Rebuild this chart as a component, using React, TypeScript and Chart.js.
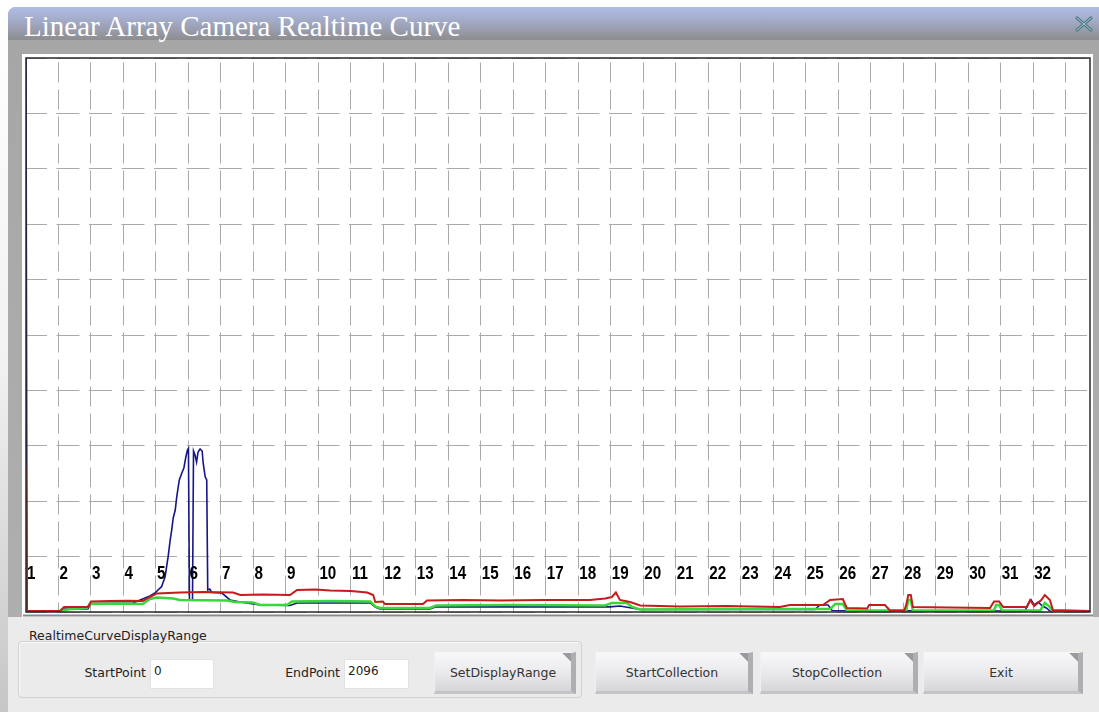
import React, { useEffect, useRef } from "react";
import { Chart, registerables } from "chart.js";

Chart.register(...registerables);

// ---- Data (sample index on x, 12-bit intensity on y) ----
const sectionLabels = [
  "1", "2", "3", "4", "5", "6", "7", "8", "9", "10", "11", "12", "13", "14", "15", "16",
  "17", "18", "19", "20", "21", "22", "23", "24", "25", "26", "27", "28", "29", "30", "31", "32",
];
const samplesPerSection = 64;
const xMax = 2096;
const yMax = 4096;
const yStep = 400;

const redX = [0, 2, 67, 75, 122, 128, 165, 200, 230, 244, 258, 303, 350, 408, 422, 465, 520, 534, 570, 599, 640, 672, 684, 688, 703, 707, 782, 790, 860, 934, 1020, 1111, 1141, 1154, 1162, 1170, 1190, 1210, 1288, 1380, 1485, 1505, 1570, 1584, 1609, 1617, 1657, 1661, 1692, 1702, 1730, 1734, 1738, 1743, 1747, 1820, 1899, 1907, 1917, 1925, 1972, 1978, 1986, 2000, 2007, 2017, 2023, 2096];
const redY = [1080, 8, 8, 37, 37, 78, 81, 84, 81, 111, 137, 144, 148, 144, 126, 129, 126, 163, 166, 159, 155, 144, 126, 74, 78, 59, 59, 85, 88, 85, 89, 89, 100, 111, 144, 89, 74, 48, 41, 44, 37, 52, 52, 89, 96, 30, 26, 52, 52, 11, 11, 52, 126, 126, 37, 33, 30, 78, 78, 37, 37, 89, 44, 89, 126, 89, 15, 7];

const greenX = [0, 67, 87, 120, 126, 180, 230, 244, 258, 290, 303, 396, 412, 447, 461, 514, 524, 600, 678, 688, 697, 796, 808, 950, 1141, 1154, 1184, 1194, 1210, 1400, 1584, 1594, 1609, 1617, 1734, 1738, 1743, 1747, 1907, 1911, 1917, 1923, 1998, 2007, 2015, 2023, 2096];
const greenY = [0, 7, 22, 30, 59, 63, 59, 96, 107, 100, 89, 85, 74, 70, 52, 52, 78, 81, 78, 41, 30, 30, 48, 52, 48, 67, 67, 37, 18, 22, 22, 59, 59, 11, 11, 89, 89, 11, 11, 52, 52, 11, 11, 67, 44, 7, 4];

const blueX = [0, 2, 67, 75, 122, 128, 211, 225, 244, 254, 260, 267, 274, 280, 284, 287, 290, 294, 297, 302, 307, 311, 315, 318, 320, 322, 328, 330, 333, 336, 339, 343, 347, 349, 353, 356, 358, 362, 366, 386, 402, 422, 461, 520, 534, 678, 688, 697, 796, 808, 1150, 1170, 1210, 1554, 1564, 1580, 1588, 1968, 1974, 1980, 1986, 1994, 2002, 2010, 2017, 2096];
const blueY = [4096, 4, 4, 22, 22, 63, 67, 89, 118, 140, 163, 187, 261, 409, 532, 606, 695, 754, 853, 976, 1028, 1065, 1148, 1198, 1210, 89, 89, 1190, 1161, 1109, 1183, 1205, 1190, 1102, 1000, 976, 163, 170, 144, 140, 89, 74, 52, 48, 67, 67, 37, 22, 22, 38, 38, 44, 18, 18, 52, 52, 11, 7, 59, 89, 52, 74, 44, 30, 7, 4];

const zip = (xs: number[], ys: number[]) => xs.map((x, i) => ({ x, y: ys[i] }));

const framePlugin = {
  id: "frame",
  afterDatasetsDraw(chart: any) {
    const { ctx, chartArea } = chart;
    const { left, top, right, bottom } = chartArea;
    const xs = chart.scales.x;
    ctx.save();
    // section numbers
    ctx.fillStyle = "#000";
    ctx.font = "bold 19px 'Liberation Sans', Arial, sans-serif";
    ctx.textBaseline = "alphabetic";
    ctx.textAlign = "left";
    sectionLabels.forEach((lab, i) => {
      const px = xs.getPixelForValue(i * samplesPerSection) + 1;
      ctx.save();
      ctx.translate(px, bottom - 33.5);
      ctx.scale(0.8, 1);
      ctx.fillText(lab, 0, 0);
      ctx.restore();
    });
    // frame
    ctx.strokeStyle = "#2a2a2a";
    ctx.lineWidth = 1.5;
    ctx.strokeRect(left, top, right - left, bottom - top);
    ctx.strokeStyle = "#8a8a8a";
    ctx.lineWidth = 2;
    ctx.beginPath();
    ctx.moveTo(left - 3, bottom + 3.5);
    ctx.lineTo(right + 3, bottom + 3.5);
    ctx.stroke();
    ctx.restore();
  },
};

function CurveChart() {
  const ref = useRef<HTMLCanvasElement | null>(null);
  useEffect(() => {
    if (!ref.current) return;
    const chart = new Chart(ref.current, {
      type: "line",
      data: {
        datasets: [
          { label: "R", data: zip(redX, redY), borderColor: "#c41c1c", borderWidth: 2, pointRadius: 0, tension: 0 },
          { label: "G", data: zip(greenX, greenY), borderColor: "#38d838", borderWidth: 2.5, pointRadius: 0, tension: 0 },
          { label: "B", data: zip(blueX, blueY), borderColor: "#16168a", borderWidth: 1.6, pointRadius: 0, tension: 0 },
        ],
      },
      options: {
        responsive: false,
        animation: false,
        events: [],
        layout: { padding: { left: 4, top: 4, right: 3, bottom: 5 } },
        plugins: { legend: { display: false }, tooltip: { enabled: false } },
        scales: {
          x: {
            type: "linear",
            min: 0,
            max: xMax,
            ticks: { display: false, stepSize: samplesPerSection, includeBounds: false },
            grid: { color: "#aaaaaa", lineWidth: 1, drawTicks: false },
            border: { display: false, dash: [20, 7], dashOffset: 22.5 },
          },
          y: {
            type: "linear",
            min: 0,
            max: yMax,
            ticks: { display: false, stepSize: yStep, includeBounds: false },
            grid: { color: "#aaaaaa", lineWidth: 1, drawTicks: false },
            border: { display: false, dash: [23, 9.5], dashOffset: 2 },
          },
        },
      } as any,
      plugins: [framePlugin],
    });
    return () => chart.destroy();
  }, []);
  return (
    <canvas
      ref={ref}
      width={1071}
      height={563}
      style={{ position: "absolute", left: 22, top: 54, width: 1071, height: 563, background: "#fff" }}
    />
  );
}

const uiFont = "'DejaVu Sans', Tahoma, sans-serif";

function Btn({ left, width, text }: { left: number; width: number; text: string }) {
  return (
    <div
      style={{
        position: "absolute",
        left,
        top: 652,
        width,
        height: 42,
        boxSizing: "border-box",
        background:
          "linear-gradient(225deg, #9a9a9f 0px, #9a9a9f 6px, rgba(0,0,0,0) 6.5px), linear-gradient(to bottom, #f8f8fa 0%, #e9e9ec 55%, #d6d6da 100%)",
        borderRight: "5px solid #afafb3",
        borderBottom: "3px solid #c4c4c8",
        borderTop: "1px solid #f6f6f6",
        borderLeft: "1px solid #f0f0f0",
        display: "flex",
        alignItems: "center",
        justifyContent: "center",
        font: `12.5px ${uiFont}`,
        color: "#333",
      }}
    >
      {text}
    </div>
  );
}

export default function App() {
  return (
    <div
      style={{
        position: "fixed",
        left: 0,
        top: 0,
        width: 1099,
        height: 712,
        background: "#fff",
        overflow: "hidden",
      }}
    >
      <div
        style={{
          position: "absolute",
          left: 0,
          top: 0,
          width: 8,
          height: 712,
          background: "linear-gradient(to bottom, #ffffff 0%, #f2f2f2 50%, #c6c6c6 100%)",
        }}
      />
      <div
        style={{
          position: "absolute",
          left: 8,
          top: 7,
          width: 1091,
          height: 705,
          background: "linear-gradient(to bottom, #a6a6a6 0%, #b0b0b0 100%)",
          borderTopLeftRadius: 8,
          overflow: "hidden",
        }}
      >
        <div
          style={{
            position: "absolute",
            left: 0,
            top: 0,
            width: 1091,
            height: 33,
            background: "linear-gradient(to bottom, #aebde6 0%, #a2a9c4 45%, #8d8d8f 100%)",
          }}
        />
        <div
          style={{
            position: "absolute",
            left: 16,
            top: 3,
            height: 33,
            lineHeight: "33px",
            font: "29px 'Liberation Serif', 'Times New Roman', serif",
            color: "#fff",
            whiteSpace: "nowrap",
          }}
        >
          Linear Array Camera Realtime Curve
        </div>
        <svg
          style={{ position: "absolute", left: 1066, top: 7 }}
          width={20}
          height={20}
          viewBox="0 0 20 20"
        >
          <path d="M3 4 L17 16 M17 4 L3 16" stroke="#4f7d88" strokeWidth={3.2} strokeLinecap="round" />
          <path d="M3 4 L17 16 M17 4 L3 16" stroke="#a9c4c9" strokeWidth={1} strokeLinecap="round" />
        </svg>
        <div
          style={{
            position: "absolute",
            left: 0,
            top: 610,
            width: 1091,
            height: 95,
            background: "#ebebeb",
          }}
        />
      </div>

      <CurveChart />

      {/* lower control panel */}
      <div
        style={{
          position: "absolute",
          left: 18,
          top: 641,
          width: 564,
          height: 57,
          boxSizing: "border-box",
          border: "1px solid #d2d2d2",
          borderRadius: 4,
          boxShadow: "inset 1px 1px 0 #fafafa",
        }}
      />
      <div
        style={{
          position: "absolute",
          left: 26,
          top: 628,
          padding: "0 3px",
          font: `12.5px ${uiFont}`,
          lineHeight: "16px",
          color: "#222",
          whiteSpace: "nowrap",
        }}
      >
        RealtimeCurveDisplayRange
      </div>
      <div
        style={{
          position: "absolute",
          left: 60,
          width: 86,
          top: 665,
          textAlign: "right",
          font: `12.5px ${uiFont}`,
          lineHeight: "16px",
          color: "#222",
        }}
      >
        StartPoint
      </div>
      <div
        style={{
          position: "absolute",
          left: 150,
          top: 659,
          width: 64,
          height: 30,
          boxSizing: "border-box",
          background: "#fff",
          border: "1px solid #e2e2e2",
          padding: "3px 3px",
          font: `12px ${uiFont}`,
          lineHeight: "16px",
          color: "#222",
        }}
      >
        0
      </div>
      <div
        style={{
          position: "absolute",
          left: 254,
          width: 86,
          top: 665,
          textAlign: "right",
          font: `12.5px ${uiFont}`,
          lineHeight: "16px",
          color: "#222",
        }}
      >
        EndPoint
      </div>
      <div
        style={{
          position: "absolute",
          left: 344,
          top: 659,
          width: 65,
          height: 30,
          boxSizing: "border-box",
          background: "#fff",
          border: "1px solid #e2e2e2",
          padding: "3px 3px",
          font: `12px ${uiFont}`,
          lineHeight: "16px",
          color: "#222",
        }}
      >
        2096
      </div>
      <Btn left={434} width={142} text="SetDisplayRange" />
      <Btn left={595} width={158} text="StartCollection" />
      <Btn left={760} width={158} text="StopCollection" />
      <Btn left={923} width={160} text="Exit" />
    </div>
  );
}
